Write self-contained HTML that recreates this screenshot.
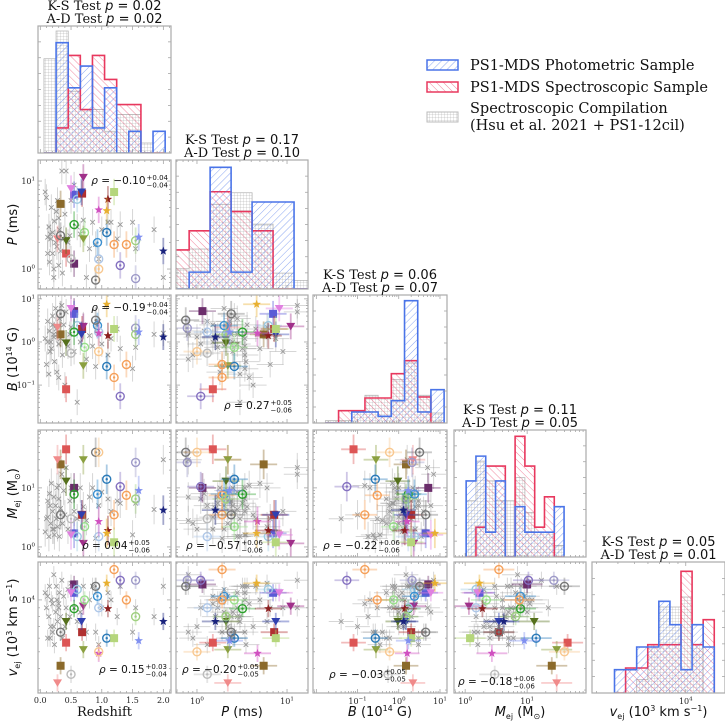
<!DOCTYPE html>
<html><head><meta charset="utf-8">
<style>
html,body{margin:0;padding:0;background:#fff;}
svg{display:block;}
.serif{font-family:"DejaVu Serif","Liberation Serif",serif;}
.sans{font-family:"DejaVu Sans","Liberation Sans",sans-serif;}
</style></head>
<body>
<svg id="fig" width="725" height="722" viewBox="0 0 725 722" xmlns="http://www.w3.org/2000/svg">
<defs>
<pattern id="hatchBlue" patternUnits="userSpaceOnUse" width="5" height="5" patternTransform="rotate(45)">
<line x1="0" y1="0" x2="0" y2="5" stroke="#4a74e8" stroke-width="0.8" stroke-opacity="0.8"/></pattern>
<pattern id="hatchRed" patternUnits="userSpaceOnUse" width="5" height="5" patternTransform="rotate(-45)">
<line x1="0" y1="0" x2="0" y2="5" stroke="#e8385e" stroke-width="0.8" stroke-opacity="0.75"/></pattern>
<pattern id="hatchGray" patternUnits="userSpaceOnUse" width="3" height="3">
<rect width="3" height="3" fill="#fff"/><path d="M0 0H3M0 0V3" stroke="#a8a8a8" stroke-width="0.5"/></pattern>
</defs>
<g id="legend">
<g>
<rect x="427" y="60" width="31" height="10" fill="url(#hatchBlue)" stroke="#4a74e8" stroke-width="1.5"/>
<text x="470" y="70" class="serif" font-size="14.5" fill="#111">PS1-MDS Photometric Sample</text></g>
<g>
<rect x="427" y="82" width="31" height="10" fill="url(#hatchRed)" stroke="#e8385e" stroke-width="1.5"/>
<text x="470" y="92" class="serif" font-size="14.5" fill="#111">PS1-MDS Spectroscopic Sample</text></g>
<g>
<rect x="427" y="112" width="31" height="10" fill="url(#hatchGray)" stroke="#bbb" stroke-width="1"/>
<text x="470" y="113" class="serif" font-size="14.5" fill="#111">Spectroscopic Compilation</text>
<text x="470" y="130" class="serif" font-size="14.5" fill="#111">(Hsu et al. 2021 + PS1-12cil)</text></g>
</g>
</svg>
<script>
// ---------- data ----------
const varNames = ['z','P','B','M','v'];
const zC = [0.33,0.28,0.42,0.42,0.55,0.55,0.60,0.68,0.70,0.50,0.55,0.72,0.70,0.67,0.93,1.08,0.95,1.10,0.95,1.08,1.20,1.20,1.40,1.30,1.55,1.55,1.60,2.00,0.33,0.90,0.95,0.50];
const PC = [5.5,2.2,1.5,2.1,1.15,7.0,6.2,7.2,11,8.2,3.2,2.6,2.2,7.5,2.0,2.6,1.3,6.2,4.7,4.6,7.5,1.9,1.9,1.1,0.78,2.1,2.3,1.6,2.4,0.75,1.0,1.3];
const BC = [1.5,2.2,0.08,0.95,5.2,4.5,2.4,2.0,2.3,6.0,1.7,0.75,0.28,1.5,2.4,0.27,1.7,1.4,1.6,7.5,2.0,0.15,0.3,0.055,2.1,1.5,1.7,1.3,4.5,3.2,0.6,0.55];
const MC = [25,30,45,13,10,1.7,1.5,3.5,1.15,1.6,7.8,2.2,30,3.5,7.8,14,1.5,1.9,2.7,1.7,1.2,3.5,7.5,10.5,27,6.5,9,4.2,3.5,40,40,3.0];
const vC = [4150,3300,5650,7500,12300,11000,11500,6500,9200,11000,8900,10000,5150,7500,10500,6000,9000,8900,4900,12500,6000,15000,10000,13000,13000,8000,5800,7500,6500,12000,5000,3700];
const zG = [0.08,0.1,0.12,0.14,0.15,0.17,0.18,0.2,0.2,0.22,0.23,0.25,0.26,0.27,0.28,0.3,0.31,0.33,0.35,0.36,0.38,0.4,0.42,0.45,0.48,0.5,0.55,0.6,0.65,0.7,0.75,0.8,0.85,0.9,0.95,1.0,1.1,1.15,1.25,1.3,1.5,1.55,1.85,2.0,0.3,0.22,0.16,0.12];
const PG = [7.5,6.5,2.3,3.0,1.2,2.2,5.0,2.6,1.5,0.8,3.5,2.0,4.5,1.8,6.0,1.1,2.8,1.6,13,0.9,2.2,4.2,13,2.0,2.4,6.0,9.0,3.0,2.5,3.6,0.8,1.7,3.4,1.9,1.3,2.8,3.4,3.4,2.2,3.2,3.4,1.7,2.8,0.8,3.8,1.0,2.5,1.5];
const BG = [1.2,0.3,3.0,0.18,1.8,1.0,0.7,4.0,2.5,1.5,0.35,6.0,2.0,0.2,1.5,0.9,3.5,1.2,7.0,0.5,2.5,0.1,5.0,0.8,1.5,2.2,0.6,0.04,1.0,2.5,0.4,1.4,0.8,0.27,3.0,0.9,0.5,1.2,2.0,0.7,0.24,0.75,1.5,1.6,0.15,1.3,0.6,1.0];
const MG = [1.8,3.0,6.0,1.5,8.0,2.5,12,4.0,2.0,7.0,1.6,5.0,3.0,10,2.2,6.5,1.5,4.5,17,2.5,9.0,3.5,22,2.0,6.0,10,4.0,3.0,10,4.8,2.8,7.0,10,1.4,5.0,8.5,6.5,4.0,6.0,5.5,1.6,5.5,4.3,30,11,2.0,5.0,3.2];
const vG = [11000,9000,6000,8000,12000,7000,10000,6500,9500,14000,5500,8500,12000,10000,7500,9000,11000,8000,13000,6000,10500,7000,9000,11500,8000,12500,9000,7500,8500,12000,6500,10000,12000,6500,5500,9000,11000,10000,8000,12000,6500,9000,8000,12000,9500,7000,6000,10500];
const binStart = [0.06,-0.32,-1.78,0.016,3.582];
const binWidth = [0.197,0.233,0.32,0.158,0.065];
const histPhot = [
 [0,33,19.5,26,7.5,19.5,0,6.5,0,6.5],
 [0,5.1,36.8,5.1,26.3,26.3,0],
 [0,0,3.3,3.3,2,6.7,36.7,3.3,10],
 [23,30.5,7.5,23,0,15.2,7.5,7.5,7.5,15.2],
 [7,7,13.8,13.8,27.5,20.5,7,20.5,13.8]];
const histSpec = [
 [0,7.5,29.2,13,29.2,22,14.5,14.5,0,0],
 [11.8,17.6,29.4,23.4,17.6,0,0],
 [0,3.7,3.7,7.5,7.5,14.8,18.7,7.8,0],
 [0,9,27.5,27.5,0,36.5,27.5,9,18.2,0],
 [0,7.5,7.5,14.5,14.5,14.5,36.5,14.5,22]];
const histComp = [
 [28.2,36.5,18.5,13,13,6.5,11.5,11.5,3,0],
 [6.1,12.1,25.6,29.1,19.6,4.8,2.6],
 [0.7,0.7,3.3,8.3,7.5,13,18,8.3,3],
 [17,29,23,17,17,24,13.5,7.5,7.5,3.5],
 [0,0,4,14.5,25.8,25.8,28.8,14.5,0]];
const histTitles = [['0.02','0.02'],['0.17','0.10'],['0.06','0.07'],['0.11','0.05'],['0.05','0.01']];
const rhoVals = [[1,0,'\u22120.10','0.04','0.04'],[2,0,'\u22120.19','0.04','0.04'],[2,1,'0.27','0.05','0.06'],
 [3,0,'0.04','0.05','0.06'],[3,1,'\u22120.57','0.06','0.06'],[3,2,'\u22120.22','0.06','0.06'],
 [4,0,'0.15','0.03','0.04'],[4,1,'\u22120.20','0.05','0.05'],[4,2,'\u22120.03','0.05','0.05'],[4,3,'\u22120.18','0.06','0.06']];

// ---------- layout / styles ----------
const colX = [[38,171],[176,308],[313,447],[454,586],[592,725]];
const rowY = [[26,153],[160,289],[295,423],[430,557],[562,693]];
const isLog = [false,true,true,true,true];
const xDom = [[-0.037,2.125],[-0.233,1.233],[-2.08,1.17],[-0.18,1.95],[3.45,4.23]];
const yDom = [null,[-0.227,1.239],[-1.88,1.09],[-0.17,1.98],[3.46,4.22]];
const histMax = [38,39,38.4,38.4,39.3];
const colorC = ['#8b6a2b','#f08a8a','#dd5555','#55701c','#6b2d6b','#5b5bd6','#9ecae1','#b03030','#a0308a','#e080e0','#2ca02c','#98df8a','#8ba040','#3040b0','#3a8fd0','#2a7ab8','#aec7e8','#8b2020','#d050c0','#e8b030','#b5d67b','#f5a05a','#f5a05a','#8470c0','#9e9ac8','#a0d080','#8090f0','#1a237e','#777777','#777777','#f8c890','#bbbbbb'];
const markC = ['s','v','s','v','s','s','o','s','v','v','o','o','v','v','o','o','o','*','*','*','s','o','o','o','o','o','*','*','o','o','o','o'];
const errDex = [0,0.15,0.3,0.25,0.05];
const NS='http://www.w3.org/2000/svg';
const svg=document.getElementById('fig');
function mk(tag,attrs,parent){const e=document.createElementNS(NS,tag);for(const k in attrs)e.setAttribute(k,attrs[k]);(parent||svg).appendChild(e);return e;}
const dataC=[zC,PC,BC,MC,vC], dataG=[zG,PG,BG,MG,vG];
function tv(i,val){return isLog[i]?Math.log10(val):val;}
function sx(i,c,u){const d=xDom[i],p=colX[c];return p[0]+(u-d[0])/(d[1]-d[0])*(p[1]-p[0]);}
function sy(i,r,u){const d=yDom[i],p=rowY[r];return p[1]-(u-d[0])/(d[1]-d[0])*(p[1]-p[0]);}

function ticksFor(i){
  const d=xDom[i],out=[];
  if(!isLog[i]){for(let k=0;k<=21;k++){const u=k*0.1;out.push({u,major:k%5===0,label:(k%5===0)?u.toFixed(1):null});}}
  else{for(let e=Math.floor(d[0])-1;e<=Math.ceil(d[1]);e++){for(let m=1;m<10;m++){const u=e+Math.log10(m);out.push({u,major:m===1,label:m===1?e:null});}}}
  return out;
}
function ticksY(i){const t=ticksFor(i),d=yDom[i];return t.filter(o=>o.u>=d[0]-1e-9&&o.u<=d[1]+1e-9);}
function expLabel(parent,x,y,e,anchor){
  const t=mk('text',{x:x,y:y,'text-anchor':anchor,'font-size':'8',class:'serif',fill:'#222'},parent);
  
  
  const a=mk('tspan',{},t);a.textContent='10';
  const b=mk('tspan',{dy:'-3.5','font-size':'5.5'},t);b.textContent=(e<0?'\u2212':'')+Math.abs(e);
}

function framePanel(r,c,g){
  const [x0,x1]=colX[c],[y0,y1]=rowY[r];
  ticksFor(c).forEach(o=>{ if(o.u<xDom[c][0]||o.u>xDom[c][1])return; const x=sx(c,c,o.u),L=o.major?4:2;
    mk('line',{x1:x,x2:x,y1:y1,y2:y1-L,stroke:'#999','stroke-width':0.7},g);
    mk('line',{x1:x,x2:x,y1:y0,y2:y0+L,stroke:'#999','stroke-width':0.7},g);
    if(r===4&&o.label!==null){ if(isLog[c]){ if(x-x0>6) expLabel(g,x,y1+11,o.label,'middle'); } else {const t=mk('text',{x:x,y:y1+10,'text-anchor':'middle','font-size':'8',class:'serif',fill:'#222'},g);t.textContent=o.label;}}
  });
  if(r!==c){ ticksY(r).forEach(o=>{const y=sy(r,r,o.u),L=o.major?4:2;
    mk('line',{x1:x0,x2:x0+L,y1:y,y2:y,stroke:'#999','stroke-width':0.7},g);
    mk('line',{x1:x1,x2:x1-L,y1:y,y2:y,stroke:'#999','stroke-width':0.7},g);
    if(c===0&&o.label!==null) expLabel(g,x0-3,y+3,o.label,'end');});}
  else { for(let k=1;k<8;k++){const y=y1-k*(y1-y0)/8;
    mk('line',{x1:x0,x2:x0+3,y1:y,y2:y,stroke:'#999','stroke-width':0.7},g);
    mk('line',{x1:x1,x2:x1-3,y1:y,y2:y,stroke:'#999','stroke-width':0.7},g);} }
  mk('rect',{x:x0,y:y0,width:x1-x0,height:y1-y0,fill:'none',stroke:'#aaa','stroke-width':1.2},g);
}

// ---------- histograms ----------
for(let i=0;i<5;i++){
  const g=mk('g',{});
  
  
  const [y0,y1]=rowY[i];const sc=(y1-y0)/histMax[i];
  const cid='hclip'+i;
  const cp=mk('clipPath',{id:cid},g);mk('rect',{x:colX[i][0],y:y0-2,width:colX[i][1]-colX[i][0],height:y1-y0+2},cp);
  const inner=mk('g',{'clip-path':'url(#'+cid+')'},g);
  const series=[[histComp[i],'url(#hatchGray)','#b5b5b5',0.8,'comp'],[histSpec[i],'url(#hatchRed)','#e8385e',1.6,'spec'],[histPhot[i],'url(#hatchBlue)','#4a74e8',1.6,'phot']];
  series.forEach(([vals,fill,stroke,sw,nm])=>{
    let path='';
    vals.forEach((h,k)=>{const u0=binStart[i]+k*binWidth[i],u1=u0+binWidth[i];
      const xa=sx(i,i,u0),xb=sx(i,i,u1);
      const b=mk('rect',{x:xa,y:y1-h*sc,width:xb-xa,height:h*sc,fill:fill},inner);
      
      
      path+=(k===0?'M'+xa+' '+y1:'')+'L'+xa+' '+(y1-h*sc)+'L'+xb+' '+(y1-h*sc);
      if(k===vals.length-1) path+='L'+xb+' '+y1;
    });
    const s=mk('path',{d:path,fill:'none',stroke:stroke,'stroke-width':sw},inner);
    
    
  });
  framePanel(i,i,g);
  const cx=(colX[i][0]+colX[i][1])/2;
  const t1=mk('text',{x:cx,y:y0-16,'text-anchor':'middle','font-size':'13',class:'serif',fill:'#111'});
  
  
  t1.innerHTML='K-S Test <tspan class="sans" font-style="italic">p</tspan><tspan class="sans"> = '+histTitles[i][0]+'</tspan>';
  const t2=mk('text',{x:cx,y:y0-3,'text-anchor':'middle','font-size':'13',class:'serif',fill:'#111'});
  
  
  t2.innerHTML='A-D Test <tspan class="sans" font-style="italic">p</tspan><tspan class="sans"> = '+histTitles[i][1]+'</tspan>';
}

// ---------- scatter panels ----------
function marker(g,kind,x,y,col){
  let e;
  if(kind==='s') e=mk('rect',{x:x-4,y:y-4,width:8,height:8,fill:col},g);
  else if(kind==='v') e=mk('path',{d:`M${x-4.5} ${y-3.5}L${x+4.5} ${y-3.5}L${x} ${y+4}Z`,fill:col},g);
  else if(kind==='*'){let d='';for(let k=0;k<10;k++){const a=-Math.PI/2+k*Math.PI/5,R=k%2?1.9:4.5;d+=(k?'L':'M')+(x+R*Math.cos(a)).toFixed(2)+' '+(y+R*Math.sin(a)).toFixed(2);}e=mk('path',{d:d+'Z',fill:col},g);}
  else {e=mk('g',{},g);mk('circle',{cx:x,cy:y,r:4,fill:'none',stroke:col,'stroke-width':1.4},e);mk('circle',{cx:x,cy:y,r:1.2,fill:col},e);}
  return e;
}
for(let r=1;r<5;r++)for(let c=0;c<r;c++){
  const g=mk('g',{});
  
  
  const cid='clip'+r+c;
  const cp=mk('clipPath',{id:cid},g);mk('rect',{x:colX[c][0],y:rowY[r][0],width:colX[c][1]-colX[c][0],height:rowY[r][1]-rowY[r][0]},cp);
  const inner=mk('g',{'clip-path':'url(#'+cid+')'},g);
  for(let k=0;k<zG.length;k++){
    const ux=tv(c,dataG[c][k]),uy=tv(r,dataG[r][k]);const x=sx(c,c,ux),y=sy(r,r,uy);
    const pg=mk('g',{},inner);
    
    
    if(errDex[c]){mk('line',{x1:sx(c,c,ux-errDex[c]),x2:sx(c,c,ux+errDex[c]),y1:y,y2:y,stroke:'#999','stroke-opacity':0.4,'stroke-width':1},pg);}
    mk('line',{x1:x,x2:x,y1:sy(r,r,uy-errDex[r]),y2:sy(r,r,uy+errDex[r]),stroke:'#999','stroke-opacity':0.4,'stroke-width':1},pg);
    mk('path',{d:`M${x-2.3} ${y-2.3}L${x+2.3} ${y+2.3}M${x-2.3} ${y+2.3}L${x+2.3} ${y-2.3}`,stroke:'#999','stroke-width':0.9},pg);
  }
  for(let k=0;k<zC.length;k++){
    const ux=tv(c,dataC[c][k]),uy=tv(r,dataC[r][k]);const x=sx(c,c,ux),y=sy(r,r,uy);
    const pg=mk('g',{},inner);
    
    
    if(errDex[c]){mk('line',{x1:sx(c,c,ux-errDex[c]),x2:sx(c,c,ux+errDex[c]),y1:y,y2:y,stroke:colorC[k],'stroke-opacity':0.4,'stroke-width':1.8},pg);}
    mk('line',{x1:x,x2:x,y1:sy(r,r,uy-errDex[r]),y2:sy(r,r,uy+errDex[r]),stroke:colorC[k],'stroke-opacity':0.4,'stroke-width':1.8},pg);
    marker(pg,markC[k],x,y,colorC[k]);
  }
  framePanel(r,c,g);
}
// rho annotations
const rhoPos={'1,0':['end',-3,24],'2,0':['end',-3,16],'2,1':['end',-16,-14],'3,0':['end',-21,-8],'3,1':['start',10,-8],'3,2':['start',10,-8],
 '4,0':['end',-4,-20],'4,1':['start',6,-20],'4,2':['start',16,-15],'4,3':['start',4,-8]};
rhoVals.forEach(([r,c,v,p,m])=>{
  const [anc,dx,dy]=rhoPos[r+','+c];
  const ax=anc==='end'?colX[c][1]+dx:colX[c][0]+dx; const y=dy>0?rowY[r][0]+dy:rowY[r][1]+dy;
  const g=mk('g',{});
  
  
  const t=mk('text',{x:0,y:y,'font-size':'10.5',class:'sans',fill:'#111'},g);
  t.innerHTML='<tspan font-style="italic">\u03c1</tspan> = '+v;
  const sp=mk('text',{x:0,y:y-4,'font-size':'7',class:'sans',fill:'#111'},g);sp.textContent='+'+p;
  const sb=mk('text',{x:0,y:y+3.5,'font-size':'7',class:'sans',fill:'#111'},g);sb.textContent='\u2212'+m;
  const w=t.getComputedTextLength(), ws=Math.max(sp.getComputedTextLength(),sb.getComputedTextLength());
  const x0=anc==='end'?ax-w-ws-1:ax;
  t.setAttribute('x',x0);sp.setAttribute('x',x0+w+1);sb.setAttribute('x',x0+w+1);
});
// axis labels
const xLab=[['serif','Redshift'],['sans','<tspan font-style="italic">P</tspan> (ms)'],['sans','<tspan font-style="italic">B</tspan> (10<tspan font-size="8" dy="-5">14</tspan><tspan dy="5"> G)</tspan>'],['sans','<tspan font-style="italic">M</tspan><tspan font-size="8" dy="3">ej</tspan><tspan dy="-3"> (M</tspan><tspan font-size="8" dy="3">\u2299</tspan><tspan dy="-3">)</tspan>'],['sans','<tspan font-style="italic">v</tspan><tspan font-size="8" dy="3">ej</tspan><tspan dy="-3"> (10</tspan><tspan font-size="8" dy="-5">3</tspan><tspan dy="5"> km s</tspan><tspan font-size="8" dy="-5">\u22121</tspan><tspan dy="5">)</tspan>']];
xLab.forEach(([f,h],c)=>{const t=mk('text',{x:(colX[c][0]+colX[c][1])/2,y:716,'text-anchor':'middle','font-size':'13',class:f,fill:'#111'});
  
  
  t.innerHTML=h;});
for(let r=1;r<5;r++){const cy=(rowY[r][0]+rowY[r][1])/2;
  const t=mk('text',{x:0,y:0,'text-anchor':'middle','font-size':'13',class:'sans',fill:'#111',transform:`translate(17 ${cy}) rotate(-90)`});
  
  
  t.innerHTML=xLab[r][1];}
</script>
</body></html>
